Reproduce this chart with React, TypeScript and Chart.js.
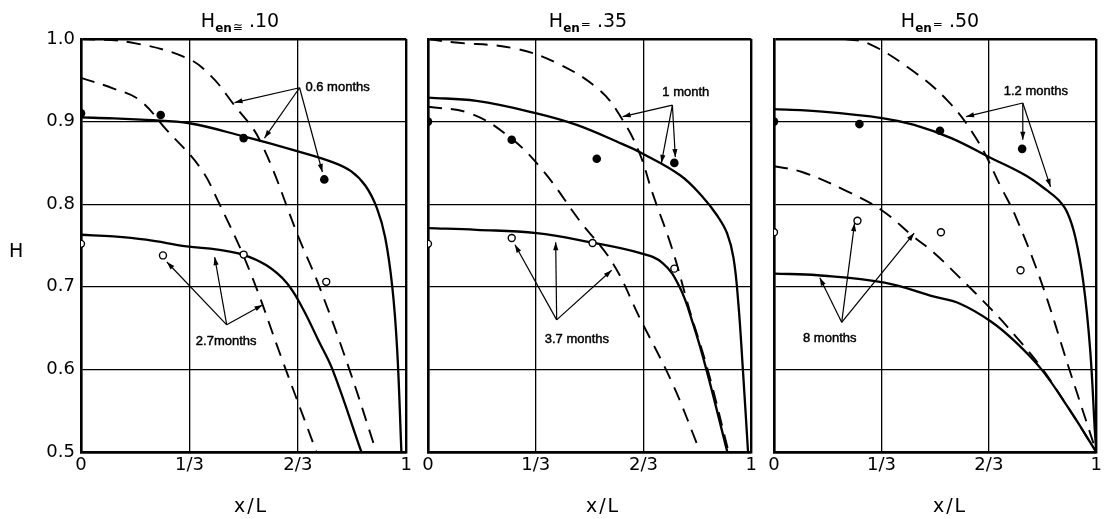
import React, { useEffect, useRef } from "react";
import { Chart, registerables } from "chart.js";

Chart.register(...registerables);

const FONT = "'DejaVu Sans', 'Liberation Sans', sans-serif";
const NOTE_FONT = "13px 'Liberation Sans', 'DejaVu Sans', sans-serif";

// ---------- axes ----------
const xTickValues = [0, 1 / 3, 2 / 3, 1];
const xTickLabels = ["0", "1/3", "2/3", "1"];
const yTickValues = [0.5, 0.6, 0.7, 0.8, 0.9, 1.0];
const yTickLabels = ["0.5", "0.6", "0.7", "0.8", "0.9", "1.0"];

const titleValues = [".10", ".35", ".50"];
const titleSymbols = ["≅", "=", "="];

// ---------- panel 1 : H_en ≅ .10 ----------
const p1SolidAX = [0, 0.1, 0.2, 1 / 3, 0.5, 0.667, 0.773, 0.83, 0.875, 0.91, 0.935, 0.957, 0.972, 0.985];
const p1SolidAH = [0.905, 0.904, 0.902, 0.898, 0.882, 0.864, 0.851, 0.84, 0.822, 0.795, 0.76, 0.70, 0.624, 0.5];
const p1SolidBX = [0, 0.1, 0.2, 0.325, 0.42, 0.497, 0.57, 0.632, 0.68, 0.73, 0.773, 0.862];
const p1SolidBH = [0.763, 0.761, 0.757, 0.749, 0.745, 0.739, 0.726, 0.705, 0.675, 0.635, 0.6, 0.5];
const p1DashAX = [0, 0.15, 0.325, 0.4, 0.467, 0.549, 0.672, 0.733, 0.825, 0.908];
const p1DashAH = [1.0, 0.996, 0.977, 0.955, 0.922, 0.878, 0.757, 0.70, 0.6, 0.5];
const p1DashBX = [0, 0.1, 0.18, 0.263, 0.365, 0.426, 0.518, 0.62, 0.724];
const p1DashBH = [0.953, 0.94, 0.926, 0.89, 0.845, 0.80, 0.72, 0.61, 0.5];
const p1FilledX = [0, 0.245, 0.5, 0.748];
const p1FilledH = [0.91, 0.908, 0.88, 0.83];
const p1OpenX = [0, 0.252, 0.5, 0.754];
const p1OpenH = [0.752, 0.738, 0.739, 0.706];
const p1Notes = [
  { text: "0.6 months", at: [0.69, 0.941], from: [0.672, 0.941], to: [[0.472, 0.923], [0.564, 0.88], [0.742, 0.839]] },
  { text: "2.7months", at: [0.353, 0.634], from: [0.448, 0.654], to: [[0.264, 0.73], [0.411, 0.736], [0.558, 0.678]] },
];

// ---------- panel 2 : H_en = .35 ----------
const p2SolidAX = [0, 0.15, 0.336, 0.46, 0.6, 0.66, 0.78, 0.849, 0.895, 0.925, 0.945, 0.96, 0.974, 0.99];
const p2SolidAH = [0.929, 0.925, 0.91, 0.896, 0.873, 0.862, 0.835, 0.809, 0.786, 0.765, 0.735, 0.68, 0.6, 0.5];
const p2SolidBX = [0, 0.15, 0.336, 0.5, 0.654, 0.725, 0.778, 0.82, 0.861, 0.926];
const p2SolidBH = [0.771, 0.769, 0.765, 0.754, 0.741, 0.729, 0.70, 0.655, 0.6, 0.5];
const p2DashAX = [0, 0.077, 0.262, 0.398, 0.531, 0.602, 0.654, 0.694, 0.756, 0.809, 0.865, 0.93];
const p2DashAH = [1.0, 0.996, 0.989, 0.971, 0.938, 0.902, 0.862, 0.814, 0.745, 0.672, 0.6, 0.5];
const p2DashBX = [0, 0.13, 0.253, 0.355, 0.469, 0.571, 0.654, 0.756, 0.842];
const p2DashBH = [0.918, 0.91, 0.881, 0.841, 0.78, 0.729, 0.663, 0.583, 0.5];
const p2FilledX = [0, 0.259, 0.522, 0.762];
const p2FilledH = [0.9, 0.878, 0.855, 0.85];
const p2OpenX = [0, 0.259, 0.509, 0.762];
const p2OpenH = [0.752, 0.759, 0.753, 0.722];
const p2Notes = [
  { text: "1 month", at: [0.725, 0.935], from: [0.756, 0.92], to: [[0.602, 0.906], [0.722, 0.85], [0.765, 0.857]] },
  { text: "3.7 months", at: [0.361, 0.636], from: [0.398, 0.66], to: [[0.269, 0.751], [0.395, 0.754], [0.568, 0.72]] },
];

// ---------- panel 3 : H_en = .50 ----------
const p3SolidAX = [0, 0.15, 0.34, 0.435, 0.55, 0.673, 0.78, 0.846, 0.883, 0.91, 0.935, 0.96, 0.981, 0.996, 1];
const p3SolidAH = [0.915, 0.912, 0.904, 0.896, 0.88, 0.856, 0.835, 0.817, 0.805, 0.79, 0.76, 0.705, 0.624, 0.523, 0.5];
const p3SolidBX = [0, 0.136, 0.343, 0.497, 0.574, 0.673, 0.75, 0.83, 0.914, 1];
const p3SolidBH = [0.716, 0.714, 0.705, 0.688, 0.68, 0.658, 0.633, 0.6, 0.553, 0.5];
const p3DashAX = [0.22, 0.29, 0.414, 0.537, 0.63, 0.704, 0.75, 0.83, 0.914, 0.975, 1];
const p3DashAH = [1.0, 0.995, 0.966, 0.926, 0.878, 0.821, 0.785, 0.705, 0.603, 0.53, 0.5];
const p3DashBX = [0, 0.087, 0.219, 0.333, 0.435, 0.497, 0.574, 0.676, 0.75, 0.83, 0.914, 1];
const p3DashBH = [0.846, 0.839, 0.817, 0.793, 0.76, 0.741, 0.712, 0.672, 0.64, 0.602, 0.553, 0.5];
const p3FilledX = [0, 0.265, 0.515, 0.77];
const p3FilledH = [0.9, 0.897, 0.889, 0.867];
const p3OpenX = [0, 0.259, 0.518, 0.765];
const p3OpenH = [0.766, 0.78, 0.766, 0.72];
const p3Notes = [
  { text: "1.2 months", at: [0.713, 0.936], from: [0.772, 0.9225], to: [[0.596, 0.906], [0.772, 0.878], [0.858, 0.821]] },
  { text: "8 months", at: [0.09, 0.638], from: [0.21, 0.657], to: [[0.142, 0.711], [0.25, 0.777], [0.435, 0.765]] },
];

type Note = { text: string; at: number[]; from: number[]; to: number[][] };

const zip = (xs: number[], hs: number[]) => xs.map((x, i) => ({ x, y: hs[i] }));

const curve = (xs: number[], hs: number[], dashed: boolean) => ({
  data: zip(xs, hs),
  showLine: true,
  borderColor: "#000",
  borderWidth: dashed ? 1.9 : 2.3,
  borderDash: dashed ? [14, 9] : [],
  pointRadius: 0,
  pointHoverRadius: 0,
  tension: 0.4,
  fill: false,
});

const filledPts = (xs: number[], hs: number[]) => ({
  data: zip(xs, hs),
  showLine: false,
  pointRadius: 4.3,
  pointBackgroundColor: "#000",
  pointBorderColor: "#000",
  pointBorderWidth: 0,
});

const openPts = (xs: number[], hs: number[]) => ({
  data: zip(xs, hs),
  showLine: false,
  pointRadius: 3.5,
  pointBackgroundColor: "#fff",
  pointBorderColor: "#000",
  pointBorderWidth: 1.4,
});

const arrowPlugin = {
  id: "arrowNotes",
  afterDatasetsDraw(chart: any, _args: any, opts: any) {
    const notes: Note[] = opts.notes || [];
    const xs = chart.scales.x;
    const ys = chart.scales.y;
    const ctx = chart.ctx;
    ctx.save();
    ctx.strokeStyle = "#000";
    ctx.fillStyle = "#000";
    ctx.lineWidth = 1.2;
    for (const n of notes) {
      const ox = xs.getPixelForValue(n.from[0]);
      const oy = ys.getPixelForValue(n.from[1]);
      for (const t of n.to) {
        const tx = xs.getPixelForValue(t[0]);
        const ty = ys.getPixelForValue(t[1]);
        ctx.beginPath();
        ctx.moveTo(ox, oy);
        ctx.lineTo(tx, ty);
        ctx.stroke();
        const ang = Math.atan2(ty - oy, tx - ox);
        const L = 8, W = 2.6;
        ctx.beginPath();
        ctx.moveTo(tx, ty);
        ctx.lineTo(tx - L * Math.cos(ang) + W * Math.sin(ang), ty - L * Math.sin(ang) - W * Math.cos(ang));
        ctx.lineTo(tx - L * Math.cos(ang) - W * Math.sin(ang), ty - L * Math.sin(ang) + W * Math.cos(ang));
        ctx.closePath();
        ctx.fill();
      }
      ctx.font = NOTE_FONT;
      ctx.textAlign = "left";
      ctx.textBaseline = "middle";
      const px = xs.getPixelForValue(n.at[0]);
      const py = ys.getPixelForValue(n.at[1]);
      ctx.fillText(n.text, px, py);
      ctx.lineWidth = 0.45;
      ctx.strokeText(n.text, px, py);
      ctx.lineWidth = 1.2;
    }
    ctx.restore();
  },
};

type PanelCfg = {
  left: number;
  width: number;
  yWidth: number;
  rightPad: number;
  showY: boolean;
  datasets: any[];
  notes: Note[];
};

const edgeWidth = (ctx: any) => {
  const v = ctx.tick ? ctx.tick.value : null;
  return v === 0 || v === 1 || v === 0.5 || v === 1.0 ? 2.4 : 1.3;
};

function Panel({ cfg }: { cfg: PanelCfg }) {
  const ref = useRef<HTMLCanvasElement | null>(null);
  useEffect(() => {
    if (!ref.current) return;
    const chart = new Chart(ref.current, {
      type: "scatter",
      data: { datasets: cfg.datasets },
      options: {
        animation: false,
        responsive: false,
        events: [],
        layout: { padding: { left: 0, right: cfg.rightPad, top: 39, bottom: 37 } },
        plugins: {
          legend: { display: false },
          tooltip: { enabled: false },
          arrowNotes: { notes: cfg.notes },
        } as any,
        scales: {
          x: {
            type: "linear",
            min: 0,
            max: 1,
            afterBuildTicks: (s: any) => {
              s.ticks = xTickValues.map((v) => ({ value: v }));
            },
            afterFit: (s: any) => {
              s.height = 30;
            },
            ticks: {
              callback: (_v: any, i: number) => xTickLabels[i],
              font: { family: FONT, size: 18 },
              color: "#000",
              padding: 3,
              maxRotation: 0,
              autoSkip: false,
            },
            grid: { color: "#000", lineWidth: edgeWidth, drawTicks: false },
            border: { color: "#000", width: 2.4 },
          },
          y: {
            type: "linear",
            min: 0.5,
            max: 1.0,
            afterBuildTicks: (s: any) => {
              s.ticks = yTickValues.map((v) => ({ value: v }));
            },
            afterFit: (s: any) => {
              s.width = cfg.yWidth;
            },
            ticks: {
              display: cfg.showY,
              callback: (_v: any, i: number) => yTickLabels[i],
              font: { family: FONT, size: 18 },
              color: "#000",
              padding: 6,
              autoSkip: false,
            },
            grid: { color: "#000", lineWidth: edgeWidth, drawTicks: false },
            border: { color: "#000", width: 2.4 },
          },
        },
      } as any,
      plugins: [arrowPlugin as any],
    });
    return () => chart.destroy();
  }, [cfg]);
  return (
    <canvas
      ref={ref}
      width={cfg.width}
      height={519}
      style={{ position: "absolute", left: cfg.left, top: 0, width: cfg.width, height: 519 }}
    />
  );
}

const panels: PanelCfg[] = [
  {
    left: 0, width: 415, yWidth: 81, rightPad: 8, showY: true,
    datasets: [
      filledPts(p1FilledX, p1FilledH), openPts(p1OpenX, p1OpenH),
      curve(p1SolidAX, p1SolidAH, false), curve(p1SolidBX, p1SolidBH, false),
      curve(p1DashAX, p1DashAH, true), curve(p1DashBX, p1DashBH, true),
    ],
    notes: p1Notes,
  },
  {
    left: 415, width: 345, yWidth: 13, rightPad: 8, showY: false,
    datasets: [
      filledPts(p2FilledX, p2FilledH), openPts(p2OpenX, p2OpenH),
      curve(p2SolidAX, p2SolidAH, false), curve(p2SolidBX, p2SolidBH, false),
      curve(p2DashAX, p2DashAH, true), curve(p2DashBX, p2DashBH, true),
    ],
    notes: p2Notes,
  },
  {
    left: 760, width: 345, yWidth: 14, rightPad: 7, showY: false,
    datasets: [
      filledPts(p3FilledX, p3FilledH), openPts(p3OpenX, p3OpenH),
      curve(p3SolidAX, p3SolidAH, false), curve(p3SolidBX, p3SolidBH, false),
      curve(p3DashAX, p3DashAH, true), curve(p3DashBX, p3DashBH, true),
    ],
    notes: p3Notes,
  },
];

const titleCenters = [240, 588, 940];
const xLabelCenters = [251, 603, 950];

export default function App() {
  return (
    <div
      style={{
        position: "absolute",
        left: 0,
        top: 0,
        width: 1105,
        height: 519,
        background: "#fff",
        overflow: "hidden",
        fontFamily: FONT,
        color: "#000",
      }}
    >
      {panels.map((p, i) => (
        <Panel key={i} cfg={p} />
      ))}
      {titleValues.map((v, i) => (
        <div
          key={"t" + i}
          style={{
            position: "absolute",
            left: titleCenters[i],
            top: 10,
            transform: "translateX(-50%)",
            fontSize: 19,
            lineHeight: "21px",
            whiteSpace: "nowrap",
          }}
        >
          H
          <span style={{ fontSize: 12, position: "relative", top: 5, fontWeight: "bold" }}>en</span>
          <span style={{ fontSize: 12, position: "relative", top: i === 0 ? 4 : 1, marginLeft: 1 }}>
            {titleSymbols[i]}
          </span>
          <span> {v}</span>
        </div>
      ))}
      <div style={{ position: "absolute", left: 9, top: 239, fontSize: 19, lineHeight: "22px" }}>H</div>
      {xLabelCenters.map((c, i) => (
        <div
          key={"x" + i}
          style={{
            position: "absolute",
            left: c,
            top: 494,
            transform: "translateX(-50%)",
            fontSize: 19,
            lineHeight: "22px",
            letterSpacing: 2,
            whiteSpace: "nowrap",
          }}
        >
          x/L
        </div>
      ))}
    </div>
  );
}
